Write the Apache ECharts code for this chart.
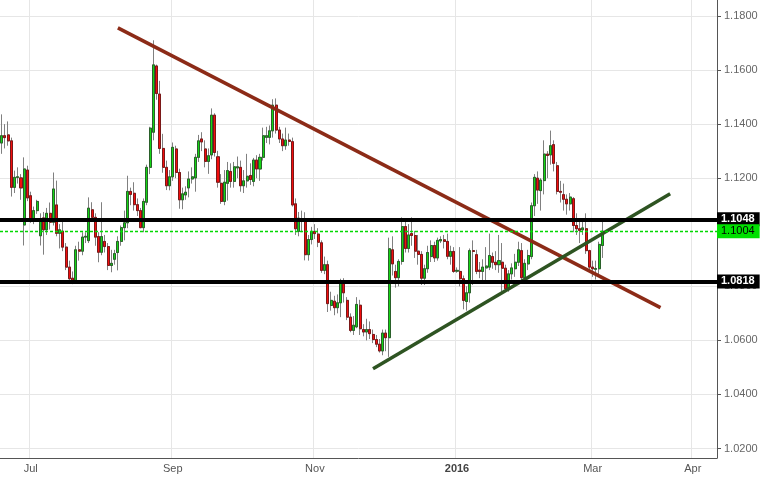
<!DOCTYPE html>
<html>
<head>
<meta charset="utf-8">
<script src="https://cdn.jsdelivr.net/npm/echarts@6/dist/echarts.min.js"></script>
<style>
  html, body { margin: 0; padding: 0; background: #fff; }
  #chart { width: 761px; height: 478px; }
</style>
</head>
<body>
<div id="chart"></div>
<script>
// daily bars, weekdays 2015-06-18 .. 2016-03-04, then empty calendar days to 2016-04-08
const opens = [
  1.1330,1.1357,1.1360,1.1338,1.1166,1.1203,1.1201,1.1027,1.1230,1.1135,
  1.1047,1.1080,1.0987,1.1053,1.1009,1.1070,1.1037,1.1101,1.0996,1.1004,
  1.0945,1.0871,1.0830,1.0816,1.0935,1.0930,1.0982,1.0969,1.1083,1.1055,
  1.0984,1.0926,1.0966,1.0947,1.0877,1.0900,1.0925,1.0966,1.1017,1.1035,
  1.1151,1.1144,1.1102,1.1080,1.1017,1.1111,1.1240,1.1370,1.1615,1.1511,
  1.1310,1.1240,1.1172,1.1205,1.1308,1.1221,1.1120,1.1138,1.1164,1.1197,
  1.1201,1.1277,1.1345,1.1308,1.1262,1.1286,1.1433,1.1279,1.1181,1.1114,
  1.1181,1.1225,1.1188,1.1238,1.1240,1.1172,1.1190,1.1210,1.1188,1.1267,
  1.1234,1.1277,1.1351,1.1351,1.1375,1.1470,1.1378,1.1345,1.1320,1.1341,
  1.1335,1.1105,1.1003,1.1047,1.1047,1.0917,1.0973,1.1003,1.0993,1.0961,
  1.0859,1.0880,1.0729,1.0745,1.0721,1.0739,1.0810,1.0748,1.0686,1.0637,
  1.0650,1.0730,1.0640,1.0631,1.0640,1.0622,1.0603,1.0586,1.0561,1.0627,
  1.0610,1.0935,1.0855,1.0832,1.0892,1.1021,1.0940,1.0995,1.0988,1.0930,
  1.0918,1.0830,1.0865,1.0910,1.0951,1.0905,1.0968,1.0972,1.0966,1.0911,
  1.0929,1.0856,1.0855,1.0828,1.0744,1.0776,1.0932,1.0917,1.0860,1.0855,
  1.0868,1.0871,1.0910,1.0889,1.0880,1.0889,1.0867,1.0791,1.0846,1.0865,
  1.0889,1.0932,1.0832,1.0883,1.0910,1.1098,1.1200,1.1154,1.1191,1.1289,
  1.1286,1.1324,1.1246,1.1151,1.1139,1.1122,1.1105,1.1124,1.1025,1.1013,
  1.1009,1.1013,1.0932,1.0871,1.0863,1.0865,1.0951
];
const closes = [
  1.1357,1.1350,1.1338,1.1166,1.1203,1.1205,1.1164,1.1234,1.1127,1.1047,
  1.1080,1.1114,1.1046,1.1009,1.1070,1.1037,1.1160,1.0996,1.1009,1.0945,
  1.0871,1.0828,1.0822,1.0935,1.0930,1.0982,1.0985,1.1089,1.1055,1.0982,
  1.0926,1.0984,1.0947,1.0877,1.0885,1.0921,1.0966,1.1017,1.1035,1.1151,
  1.1140,1.1102,1.1080,1.1017,1.1114,1.1240,1.1385,1.1619,1.1513,1.1310,
  1.1240,1.1172,1.1205,1.1314,1.1221,1.1120,1.1142,1.1148,1.1197,1.1205,
  1.1277,1.1338,1.1334,1.1262,1.1283,1.1433,1.1295,1.1185,1.1114,1.1185,
  1.1228,1.1188,1.1242,1.1242,1.1172,1.1190,1.1207,1.1195,1.1267,1.1234,
  1.1277,1.1357,1.1357,1.1375,1.1470,1.1378,1.1345,1.1320,1.1341,1.1336,
  1.1101,1.1013,1.1052,1.1043,1.0917,1.0973,1.1003,1.0995,1.0963,1.0859,
  1.0880,1.0736,1.0748,1.0721,1.0739,1.0813,1.0776,1.0686,1.0637,1.0656,
  1.0733,1.0643,1.0631,1.0640,1.0625,1.0603,1.0586,1.0561,1.0627,1.0610,
  1.0939,1.0883,1.0832,1.0892,1.1021,1.0940,1.0990,1.0988,1.0930,1.0918,
  1.0830,1.0865,1.0925,1.0951,1.0905,1.0970,1.0973,1.0966,1.0911,1.0929,
  1.0855,1.0859,1.0828,1.0748,1.0776,1.0932,1.0929,1.0855,1.0855,1.0871,
  1.0875,1.0914,1.0889,1.0880,1.0895,1.0867,1.0791,1.0846,1.0868,1.0889,
  1.0935,1.0832,1.0885,1.0914,1.1098,1.1203,1.1156,1.1193,1.1289,1.1284,
  1.1320,1.1255,1.1151,1.1148,1.1122,1.1105,1.1130,1.1025,1.1013,1.1007,
  1.1016,1.0932,1.0871,1.0865,1.0866,1.0955,1.1004
];
const lows = [
  1.1290,1.1310,1.1320,1.1132,1.1145,1.1180,1.1120,1.0951,1.1115,1.1035,
  1.1030,1.1068,1.0951,1.0917,1.0990,1.1010,1.1025,1.0985,1.0940,1.0930,
  1.0860,1.0810,1.0808,1.0810,1.0895,1.0915,1.0960,1.0960,1.1040,1.0950,
  1.0889,1.0915,1.0925,1.0860,1.0852,1.0880,1.0859,1.0950,1.0970,1.1015,
  1.1100,1.1080,1.1060,1.1015,1.1000,1.1100,1.1215,1.1340,1.1490,1.1290,
  1.1220,1.1156,1.1155,1.1190,1.1200,1.1087,1.1085,1.1120,1.1129,1.1180,
  1.1150,1.1260,1.1300,1.1240,1.1216,1.1270,1.1280,1.1165,1.1105,1.1100,
  1.1117,1.1165,1.1165,1.1200,1.1150,1.1145,1.1165,1.1175,1.1170,1.1200,
  1.1190,1.1265,1.1330,1.1325,1.1350,1.1365,1.1330,1.1300,1.1305,1.1320,
  1.1095,1.0990,1.0985,1.1000,1.0896,1.0895,1.0955,1.0975,1.0945,1.0850,
  1.0845,1.0705,1.0710,1.0693,1.0700,1.0686,1.0740,1.0675,1.0630,1.0620,
  1.0645,1.0620,1.0615,1.0600,1.0605,1.0590,1.0575,1.0555,1.0545,1.0560,
  1.0539,1.0840,1.0795,1.0800,1.0880,1.0925,1.0925,1.0950,1.0905,1.0880,
  1.0805,1.0805,1.0850,1.0890,1.0890,1.0895,1.0960,1.0940,1.0900,1.0880,
  1.0850,1.0850,1.0800,1.0715,1.0710,1.0740,1.0805,1.0845,1.0830,1.0815,
  1.0810,1.0860,1.0865,1.0860,1.0850,1.0780,1.0780,1.0780,1.0825,1.0835,
  1.0875,1.0810,1.0820,1.0860,1.0900,1.1060,1.1105,1.1080,1.1140,1.1200,
  1.1250,1.1225,1.1140,1.1110,1.1080,1.1065,1.1080,1.1000,1.0990,1.0960,
  1.0990,1.0920,1.0860,1.0835,1.0825,1.0845,1.0905
];
const highs = [
  1.1436,1.1400,1.1410,1.1350,1.1228,1.1240,1.1215,1.1277,1.1246,1.1150,
  1.1095,1.1120,1.1070,1.1075,1.1090,1.1110,1.1221,1.1191,1.1030,1.1040,
  1.0960,1.0895,1.0855,1.0950,1.0965,1.1000,1.1000,1.1129,1.1111,1.1070,
  1.1000,1.1111,1.0990,1.0960,1.0935,1.0935,1.0985,1.1025,1.1080,1.1209,
  1.1165,1.1185,1.1125,1.1090,1.1125,1.1250,1.1390,1.1710,1.1620,1.1560,
  1.1364,1.1265,1.1230,1.1332,1.1320,1.1235,1.1165,1.1170,1.1225,1.1240,
  1.1290,1.1360,1.1370,1.1340,1.1310,1.1458,1.1440,1.1301,1.1215,1.1230,
  1.1260,1.1255,1.1260,1.1280,1.1265,1.1230,1.1290,1.1255,1.1275,1.1285,
  1.1290,1.1387,1.1390,1.1395,1.1492,1.1495,1.1390,1.1365,1.1387,1.1365,
  1.1350,1.1125,1.1075,1.1080,1.1074,1.0990,1.1020,1.1030,1.1015,1.0970,
  1.0910,1.0895,1.0780,1.0765,1.0770,1.0828,1.0830,1.0760,1.0700,1.0690,
  1.0760,1.0750,1.0660,1.0680,1.0670,1.0640,1.0620,1.0605,1.0640,1.0640,
  1.0980,1.0985,1.0880,1.0900,1.1055,1.1045,1.1030,1.1055,1.1005,1.0990,
  1.0930,1.0880,1.0950,1.0970,1.0965,1.0980,1.0985,1.0990,1.0995,1.0950,
  1.0945,1.0870,1.0945,1.0840,1.0800,1.0940,1.0970,1.0935,1.0890,1.0900,
  1.0945,1.0995,1.0925,1.0930,1.0990,1.0960,1.0880,1.0860,1.0885,1.0920,
  1.0965,1.0960,1.0900,1.0935,1.1110,1.1215,1.1225,1.1200,1.1340,1.1300,
  1.1376,1.1340,1.1260,1.1190,1.1180,1.1140,1.1145,1.1130,1.1070,1.1040,
  1.1050,1.1070,1.0935,1.0895,1.0895,1.0965,1.1045
];

// axis
const tickDates = ['2015-07-01', '2015-09-01', '2015-11-02', '2016-01-01', '2016-03-01', '2016-04-01'];
const tickLabels = ['Jul', 'Sep', 'Nov', '2016', 'Mar', 'Apr'];
const priceTicks = [1.02, 1.04, 1.06, 1.08, 1.12, 1.14, 1.16, 1.18]; // 1.10 sits under the last-price tag

// horizontal levels and trend lines
const supportRes = [1.1048, 1.0818];
const lastPrice = 1.1004;
const downTrend = [['2015-08-07', 1.1756], ['2016-03-22', 1.0721]];
const upTrend = [['2015-11-26', 1.0495], ['2016-03-25', 1.1142]];

const FONT = '"Liberation Sans", Arial, sans-serif';

// weekdays while there is data, then every calendar day
function buildDates() {
    const out = [];
    const d = new Date(Date.UTC(2015, 5, 18));
    const lastBar = Date.UTC(2016, 2, 4);
    const stop = Date.UTC(2016, 3, 8);
    while (d.getTime() <= stop) {
        const wd = d.getUTCDay();
        if (d.getTime() > lastBar || (wd !== 0 && wd !== 6)) {
            out.push(d.toISOString().slice(0, 10));
        }
        d.setUTCDate(d.getUTCDate() + 1);
    }
    return out;
}
const dates = buildDates();

const wickData = opens.map((o, i) => [o, closes[i], lows[i], highs[i]]);
const bodyData = opens.map((o, i) => [o, closes[i], Math.min(o, closes[i]), Math.max(o, closes[i])]);

const isTick = (idx, val) => tickDates.indexOf(val) >= 0;

function levelLine(value, bg, fg, weight, lineStyle) {
    return {
        yAxis: value,
        lineStyle: lineStyle,
        label: {
            show: true,
            position: 'end',
            distance: 0,
            formatter: value.toFixed(4),
            backgroundColor: bg,
            color: fg,
            fontWeight: weight,
            fontSize: 11,
            fontFamily: FONT,
            padding: [2, 5, 1, 4]
        }
    };
}

function trendLine(pts, color) {
    return [
        { coord: pts[0], lineStyle: { color: color, width: 3.5, type: 'solid' }, label: { show: false } },
        { coord: pts[1] }
    ];
}

const chart = echarts.init(document.getElementById('chart'));
chart.setOption({
    animation: false,
    backgroundColor: '#fff',
    grid: { left: 0, right: 44, top: 0, bottom: 20 },
    xAxis: {
        type: 'category',
        data: dates,
        boundaryGap: true,
        axisLine: { lineStyle: { color: '#555' } },
        axisTick: { interval: isTick, length: 4, lineStyle: { color: '#555' } },
        splitLine: { show: true, interval: isTick, lineStyle: { color: '#e6e6e6' } },
        axisLabel: {
            interval: isTick,
            color: '#555',
            fontSize: 11,
            fontFamily: FONT,
            margin: 5,
            formatter: function (val) {
                const lbl = tickLabels[tickDates.indexOf(val)];
                return lbl === '2016' ? '{b|2016}' : lbl;
            },
            rich: { b: { fontWeight: 'bold', color: '#444', fontSize: 11, fontFamily: FONT } }
        }
    },
    yAxis: {
        type: 'value',
        position: 'right',
        min: 1.0165,
        max: 1.1859,
        axisLine: { show: true, lineStyle: { color: '#555' } },
        axisTick: { show: true, customValues: priceTicks, length: 4, lineStyle: { color: '#555' } },
        splitLine: { show: true, lineStyle: { color: '#e6e6e6' } },
        axisLabel: {
            customValues: priceTicks,
            color: '#666',
            fontSize: 11,
            fontFamily: FONT,
            margin: 7,
            formatter: v => v.toFixed(4)
        }
    },
    series: [
        {
            // wicks
            type: 'candlestick',
            data: wickData,
            barWidth: '78%',
            silent: true,
            itemStyle: { color: '#808080', color0: '#808080', borderColor: '#808080', borderColor0: '#808080', borderWidth: 1 }
        },
        {
            // bodies
            type: 'candlestick',
            data: bodyData,
            barWidth: '78%',
            silent: true,
            itemStyle: { color: '#14d614', color0: '#f20d0d', borderColor: '#2a602a', borderColor0: '#7a1818', borderWidth: 1 },
            markLine: {
                silent: true,
                precision: 4,
                symbol: ['none', 'none'],
                data: [
                    trendLine(downTrend, '#8c2b17'),
                    trendLine(upTrend, '#2e5422'),
                    levelLine(supportRes[0], '#000', '#fff', 'bold', { color: '#000', width: 4, type: 'solid' }),
                    levelLine(supportRes[1], '#000', '#fff', 'bold', { color: '#000', width: 4, type: 'solid' }),
                    levelLine(lastPrice, '#00e000', '#000', 'normal', { color: '#00d800', width: 1.3, type: [3, 2] })
                ]
            }
        }
    ]
});
</script>
</body>
</html>
